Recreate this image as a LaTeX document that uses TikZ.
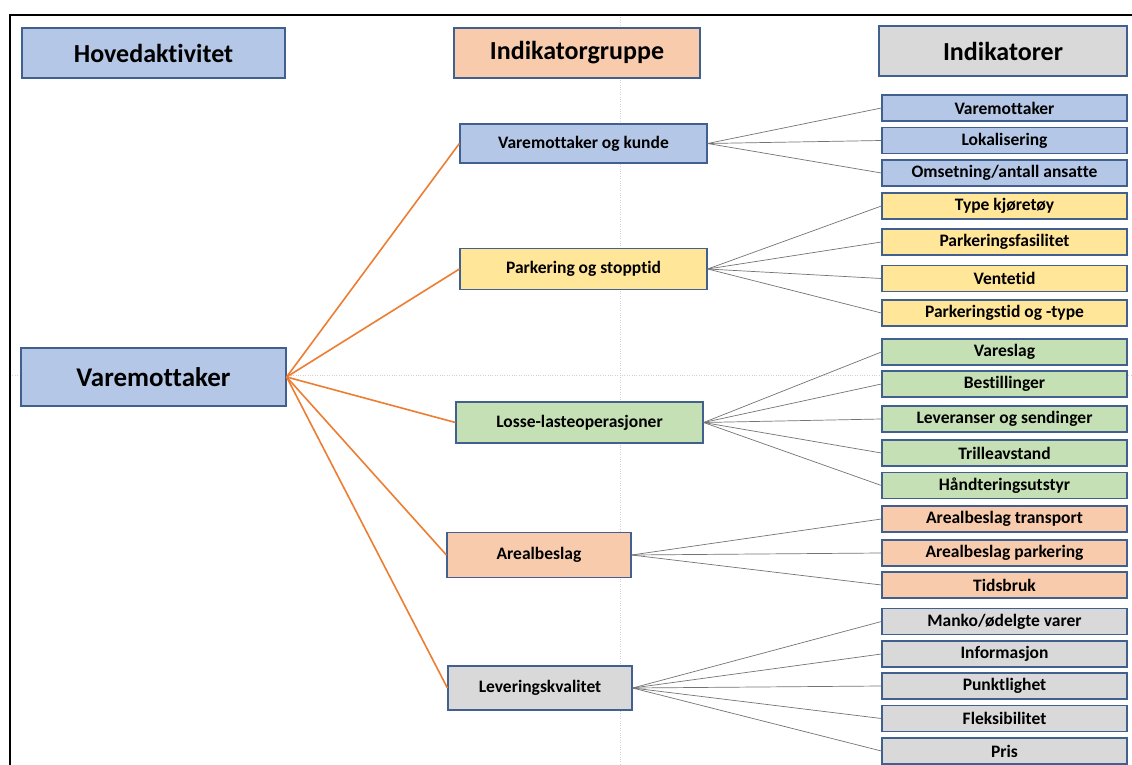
\documentclass[tikz,border=0pt]{standalone}
\usepackage{fontspec}
\setmainfont{Carlito}[Ligatures=NoCommon]
\definecolor{fillblue}{HTML}{B4C7E7}
\definecolor{fillorange}{HTML}{F8CBAD}
\definecolor{fillyellow}{HTML}{FFE699}
\definecolor{fillgreen}{HTML}{C5E0B4}
\definecolor{fillgray}{HTML}{D9D9D9}
\definecolor{rimblue}{HTML}{41608F}
\definecolor{tieorange}{HTML}{ED7D31}

\begin{document}
\begin{tikzpicture}[x=1pt, y=-1pt,
  box/.style={rectangle, draw=rimblue, line width=1.2pt, inner sep=0pt},
  head/.style={box, minimum height=50pt, font=\bfseries\fontsize{26}{28}\selectfont},
  grp/.style={box, font=\bfseries\fontsize{17.5}{19}\selectfont},
  ind/.style={box, minimum width=245pt, minimum height=26pt, font=\bfseries\fontsize{17.5}{19}\selectfont},
  tie/.style={tieorange, line width=1.6pt},
  twig/.style={gray!90!black, line width=0.7pt}]
  \useasboundingbox (0,0) rectangle (1132,765);

  % guides and frame
  \draw[gray!35, dotted] (620,15) -- (620,765);
  \draw[gray!35, dotted] (10,375) -- (1132,375);
  \draw[line width=2pt] (10,765) -- (10,15) -- (1132,15);

  % column headers
  \node[head, fill=fillblue, minimum width=263pt] (hhoved) at (153.5,53) {Hovedaktivitet};
  \node[head, fill=fillorange, minimum width=246pt] (hgruppe) at (577,53) {Indikatorgruppe};
  \node[head, fill=fillgray, minimum width=248pt] (hind) at (1003,51) {Indikatorer};

  \node[box, fill=fillblue, minimum width=265pt, minimum height=58pt,
        font=\bfseries\fontsize{27}{29}\selectfont] (main) at (153.5,377) {Varemottaker};

  % indicator groups
  \node[grp, fill=fillblue, minimum width=247pt, minimum height=39pt] (g1) at (583.5,143.5) {Varemottaker og kunde};
  \node[grp, fill=fillyellow, minimum width=247pt, minimum height=41pt] (g2) at (583.5,269) {Parkering og stopptid};
  \node[grp, fill=fillgreen, minimum width=247pt, minimum height=41pt] (g3) at (579.5,422.5) {Losse-lasteoperasjoner};
  \node[grp, fill=fillorange, minimum width=184pt, minimum height=45pt] (g4) at (539,555) {Arealbeslag};
  \node[grp, fill=fillgray, minimum width=184pt, minimum height=44pt] (g5) at (540,688) {Leveringskvalitet};

  \foreach \g in {g1,g2,g3,g4,g5}{
    \draw[tie] (main.east) -- (\g.west);
  };

  % indicators
  \foreach \n/\y/\c/\g/\txt in {
      1/108/fillblue/g1/Varemottaker,
      2/140.5/fillblue/g1/Lokalisering,
      3/173/fillblue/g1/{Omsetning/antall ansatte},
      4/206/fillyellow/g2/Type kjøretøy,
      5/242/fillyellow/g2/Parkeringsfasilitet,
      6/278.5/fillyellow/g2/Ventetid,
      7/313/fillyellow/g2/Parkeringstid og -type,
      8/352/fillgreen/g3/Vareslag,
      9/384/fillgreen/g3/Bestillinger,
      10/419/fillgreen/g3/Leveranser og sendinger,
      11/453/fillgreen/g3/Trilleavstand,
      12/485.5/fillgreen/g3/Håndteringsutstyr,
      13/519/fillorange/g4/Arealbeslag transport,
      14/553/fillorange/g4/Arealbeslag parkering,
      15/585/fillorange/g4/Tidsbruk,
      16/621.5/fillgray/g5/{Manko/ødelgte varer},
      17/654/fillgray/g5/Informasjon,
      18/686/fillgray/g5/Punktlighet,
      19/718.5/fillgray/g5/Fleksibilitet,
      20/751/fillgray/g5/Pris}{
    \node[ind, fill=\c] (i\n) at (1004.5,\y) {\txt};
    \draw[twig] (\g.east) -- (i\n.west);
  };
\end{tikzpicture}
\end{document}
